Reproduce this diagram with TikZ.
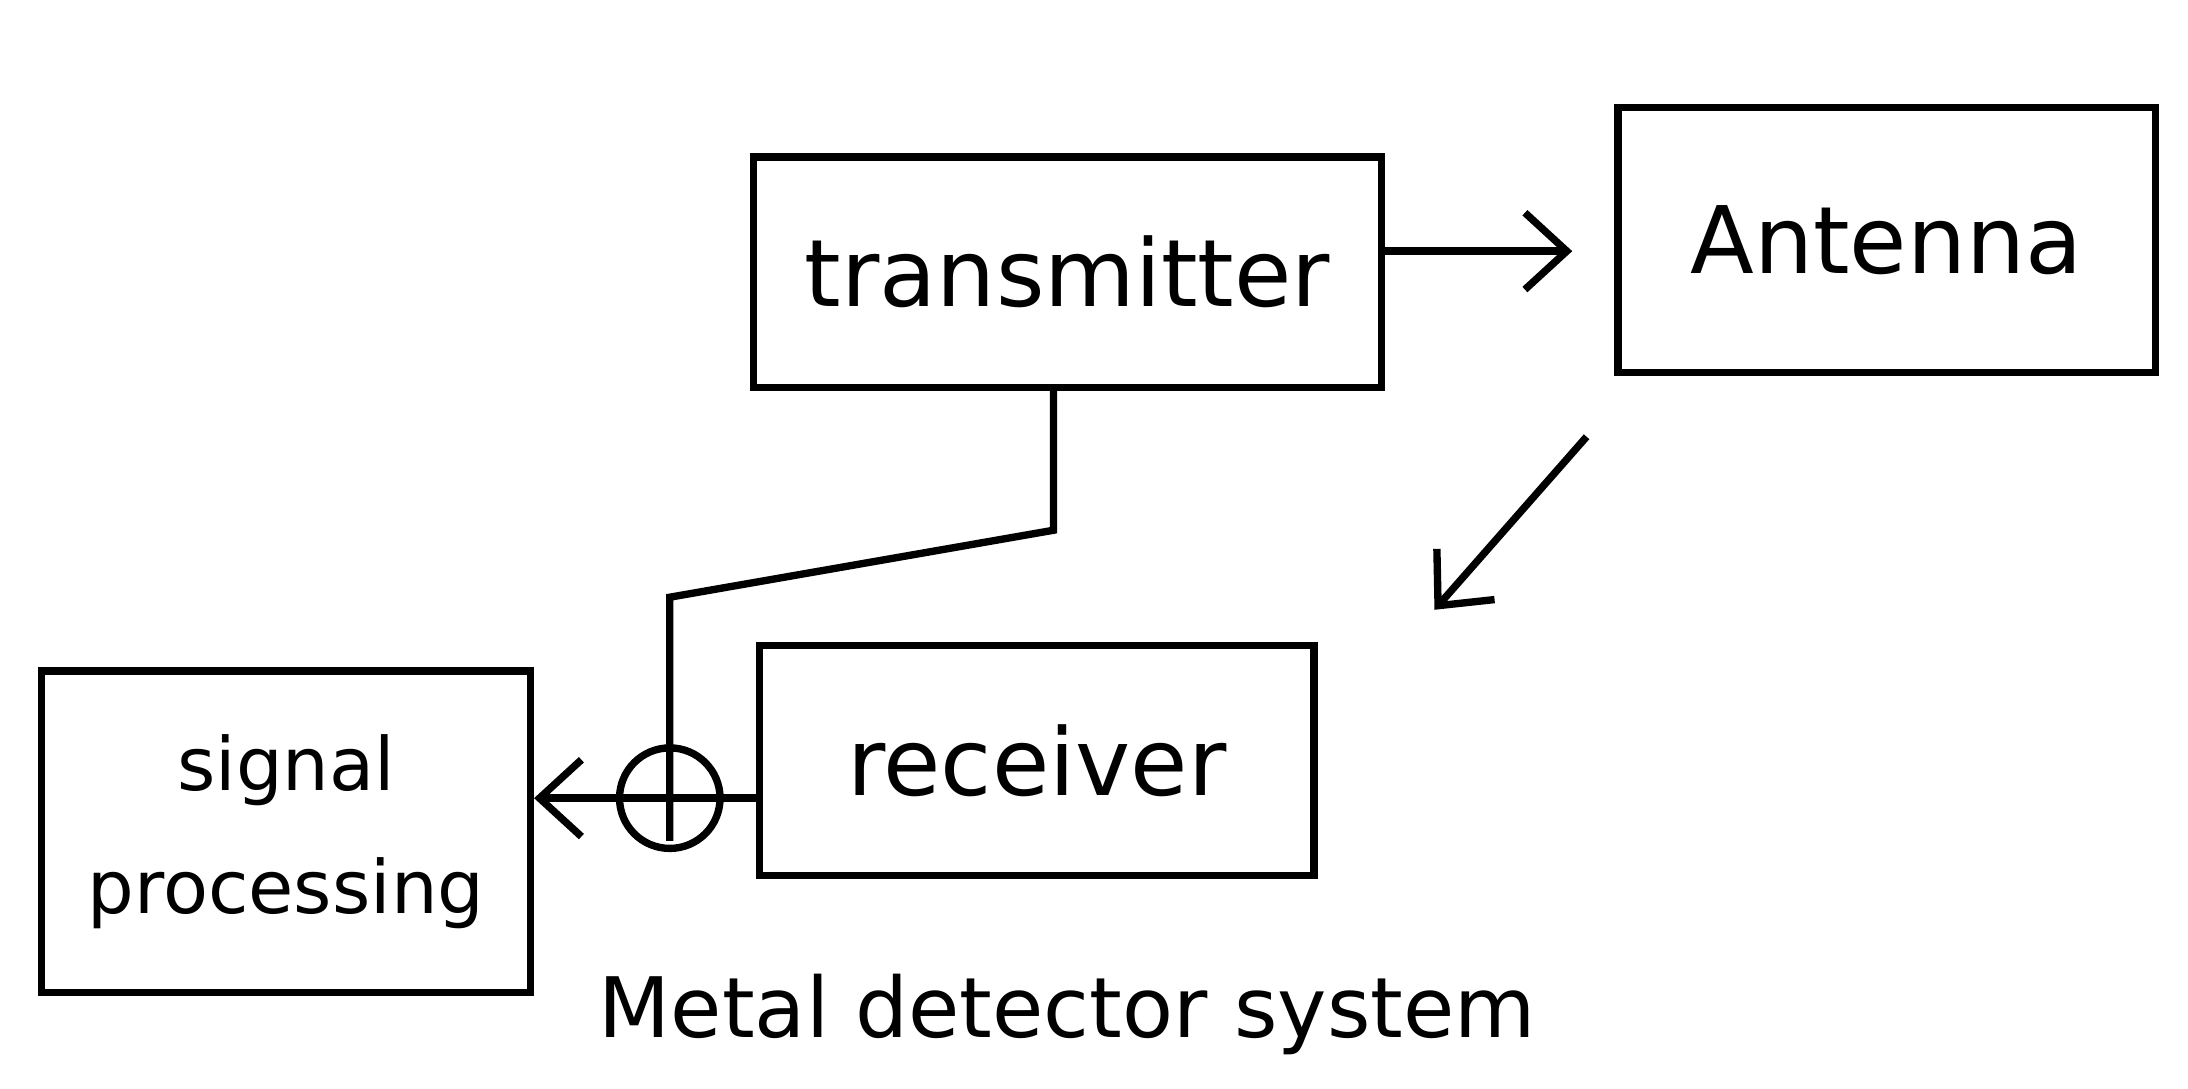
\documentclass[tikz,border=0pt]{standalone}
\usepackage{fontspec}
\setmainfont{DejaVu Sans}
\usetikzlibrary{arrows.meta, positioning, calc}

\begin{document}
\begin{tikzpicture}[x=0.01cm, y=-0.01cm, line width=1.5pt,
  block/.style={draw, rectangle, inner sep=0pt, font=\fontsize{19}{22}\selectfont},
  barb/.style={-{Straight Barb[length=0.3cm, width=0.55cm, line width=1.5pt]}}]
  \useasboundingbox (0,0) rectangle (1568,780);
  % blocks
  \node[block, minimum width=4.5cm, minimum height=1.65cm] (tx) at (765,195) {transmitter};
  \node[block, minimum width=3.85cm, minimum height=1.9cm] (ant) at (1352,172) {Antenna};
  \node[block, minimum width=3.97cm, minimum height=1.65cm] (rx) at (743,545) {receiver};
  \node[block, align=center, font=\fontsize{15}{25}\selectfont,
        minimum width=3.5cm, minimum height=2.3cm] (sp) at (205,596) {signal\\processing};
  \node[draw, circle, minimum size=0.72cm, inner sep=0pt] (sum) at (480,572) {};
  % caption
  \node[font=\fontsize{17}{20}\selectfont] (title) at (765,727) {Metal detector system};
  % transmitter to antenna
  \draw[barb, shorten >=0.3cm] ([yshift=0.15cm]tx.east) -- ([yshift=0.15cm]tx.east -| ant.west);
  % echo coming back
  \coordinate (dstart) at (1137,313);
  \coordinate (dend) at (1028,437);
  \draw[barb] (dstart) -- (dend);
  % reference path into the summing point
  \coordinate (bend1) at (755,380);
  \coordinate (bend2) at (480,428);
  \draw (tx.south -| bend1) -- (bend1) -- (bend2) -- ([yshift=0.08cm]sum.south);
  \draw[barb] (rx.west |- sum) -- (sp.east |- sum);
\end{tikzpicture}
\end{document}
